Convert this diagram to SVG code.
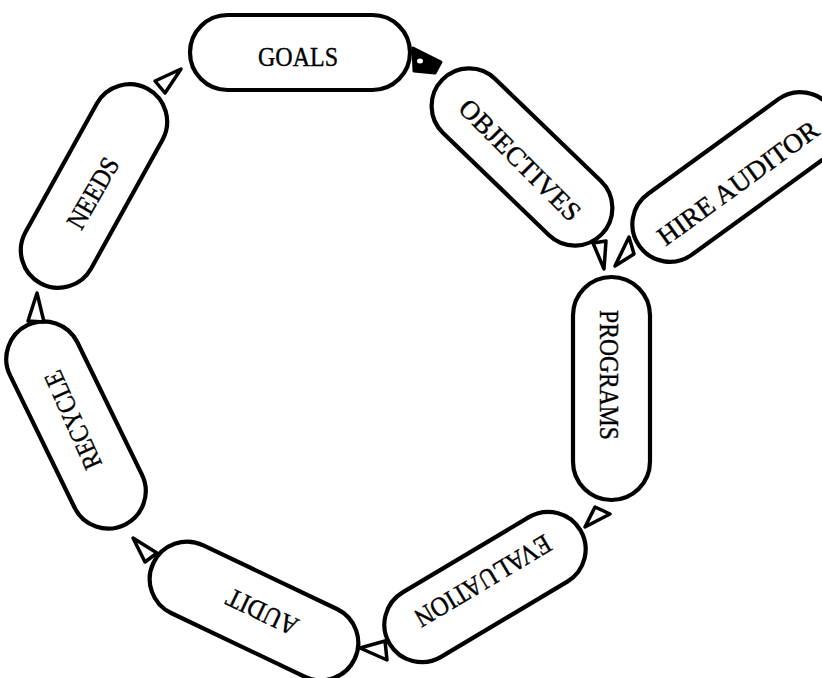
<svg xmlns="http://www.w3.org/2000/svg" width="822" height="678" viewBox="0 0 822 678">
<style>
.pill{fill:#fff;stroke:#000;stroke-width:4.2}
.lbl{font-family:"Liberation Serif","DejaVu Serif",serif;font-size:27px;fill:#000;stroke:#000;stroke-width:0.4;text-anchor:middle}
.arr{fill:#fff;stroke:#000;stroke-width:3.5;stroke-linejoin:round}
.arrf{fill:#000;stroke:#000;stroke-width:3;stroke-linejoin:round}
</style>
<rect width="822" height="678" fill="#fff"/>
<g id="goals">
<rect class="pill" x="190" y="15" width="220" height="75" rx="37.5"/>
<text class="lbl" transform="translate(298,57)" y="9" textLength="80" lengthAdjust="spacingAndGlyphs">GOALS</text>
</g>
<g id="objectives">
<rect class="pill" transform="translate(522,157) rotate(44)" x="-111" y="-37.5" width="222" height="75" rx="37.5"/>
<text class="lbl" transform="translate(520,160) rotate(45)" y="9" textLength="160" lengthAdjust="spacingAndGlyphs">OBJECTIVES</text>
</g>
<g id="hire-auditor">
<rect class="pill" transform="translate(735,177) rotate(-36)" x="-118" y="-37.5" width="236" height="75" rx="37.5"/>
<text class="lbl" transform="translate(738,183) rotate(-36)" y="9" textLength="192" lengthAdjust="spacingAndGlyphs">HIRE AUDITOR</text>
</g>
<g id="programs">
<rect class="pill" x="573" y="277" width="77" height="223" rx="38.5"/>
<text class="lbl" transform="translate(609,375) rotate(90)" y="9" textLength="130" lengthAdjust="spacingAndGlyphs">PROGRAMS</text>
</g>
<g id="evaluation">
<rect class="pill" transform="translate(485,587) rotate(-30.8)" x="-111" y="-37.5" width="222" height="75" rx="37.5"/>
<text class="lbl" transform="translate(483,581) rotate(149.2)" y="9" textLength="154" lengthAdjust="spacingAndGlyphs">EVALUATION</text>
</g>
<g id="audit">
<rect class="pill" transform="translate(254,611) rotate(25.5)" x="-111.5" y="-37.5" width="223" height="75" rx="37.5"/>
<text class="lbl" transform="translate(262,612) rotate(205.5)" y="9" textLength="76" lengthAdjust="spacingAndGlyphs">AUDIT</text>
</g>
<g id="recycle">
<rect class="pill" transform="translate(76,425) rotate(64)" x="-111" y="-37.5" width="222" height="75" rx="37.5"/>
<text class="lbl" transform="translate(73,420) rotate(-114)" y="9" textLength="105" lengthAdjust="spacingAndGlyphs">RECYCLE</text>
</g>
<g id="needs">
<rect class="pill" transform="translate(94,186) rotate(-61)" x="-111" y="-37.5" width="222" height="75" rx="37.5"/>
<text class="lbl" transform="translate(93,193) rotate(-60)" y="9" textLength="78" lengthAdjust="spacingAndGlyphs">NEEDS</text>
</g>
<g id="connectors">
<polygon class="arr" points="155,81 181,69 165,93"/>
<polygon class="arrf" points="413,48 441,62 435,73 414,71"/>
<ellipse cx="420" cy="61" rx="3" ry="2.5" fill="#fff"/>
<polygon class="arr" points="593,243 606,241 604,269"/>
<polygon class="arr" points="615,266 629,237 634,254"/>
<polygon class="arr" points="585,527 595,507 610,514"/>
<polygon class="arr" points="360,648 385,641 387,660"/>
<polygon class="arr" points="133,538 157,553 145,562"/>
<polygon class="arr" points="37,293 28,321 44,322"/>
</g>
</svg>
